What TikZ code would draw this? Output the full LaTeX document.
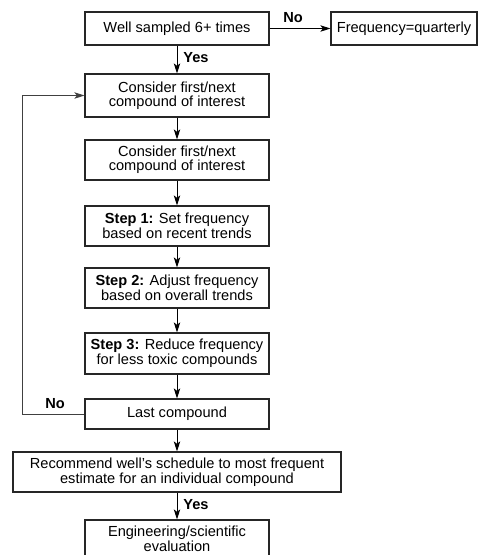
\documentclass[tikz,border=0pt]{standalone}
\usepackage{fontspec}
\setmainfont{Liberation Sans}
\usetikzlibrary{arrows.meta}
\begin{document}
\begin{tikzpicture}[x=1pt,y=-1pt,
  box/.style={draw=black!85,line width=1.3pt,inner sep=0pt,align=center,
    font=\fontsize{14.6pt}{13.6pt}\selectfont},
  conn/.style={line width=1pt,-{Stealth[length=10pt,width=6.5pt,inset=2.5pt]}},
  lab/.style={font=\fontsize{14.6pt}{13.6pt}\selectfont\bfseries,inner sep=0pt}]
\useasboundingbox (0,0) rectangle (478,555);
\clip (0,0) rectangle (478,555);
\node[box,minimum width=184pt,minimum height=33pt] (b1) at (177,28.5) {Well sampled 6+ times};
\node[box,minimum width=146pt,minimum height=33pt] (fq) at (404,28.5) {Frequency=quarterly};
\node[box,minimum width=184pt,minimum height=43pt] (b2) at (177,95.5) {Consider first/next\\compound of interest};
\node[box,minimum width=184pt,minimum height=40pt] (b3) at (177,160) {Consider first/next\\compound of interest};
\node[box,minimum width=184pt,minimum height=40pt] (b4) at (177,226) {\textbf{Step 1:} Set frequency\\based on recent trends};
\node[box,minimum width=184pt,minimum height=40pt] (b5) at (177,288) {\textbf{Step 2:} Adjust frequency\\based on overall trends};
\node[box,minimum width=184pt,minimum height=41pt] (b6) at (177,353.5) {\textbf{Step 3:} Reduce frequency\\for less toxic compounds};
\node[box,minimum width=184pt,minimum height=30pt] (b7) at (177,414) {Last compound};
\node[box,minimum width=328pt,minimum height=40pt] (b8) at (177,472) {Recommend well's schedule to most frequent\\estimate for an individual compound};
\node[box,minimum width=184pt,minimum height=38pt] (b9) at (177,539) {Engineering/scientific\\evaluation};
\coordinate (lb) at (22,414);
\coordinate (lt) at (22,95.5);
\draw[conn] (b1) -- (fq);
\draw[conn] (b1) -- (b2);
\draw[conn] (b2) -- (b3);
\draw[conn] (b3) -- (b4);
\draw[conn] (b4) -- (b5);
\draw[conn] (b5) -- (b6);
\draw[conn] (b6) -- (b7);
\draw[conn] (b7) -- (b8);
\draw[conn] (b8) -- (b9);
\draw[conn,draw=black!75] (b7.west) -- (lb) -- (lt) -- (b2.west);
\node[lab] (no1) at (293,18) {No};
\node[lab] (yes1) at (196,58) {Yes};
\node[lab] (no2) at (55,404) {No};
\node[lab] (yes2) at (196,505) {Yes};
\end{tikzpicture}
\end{document}
